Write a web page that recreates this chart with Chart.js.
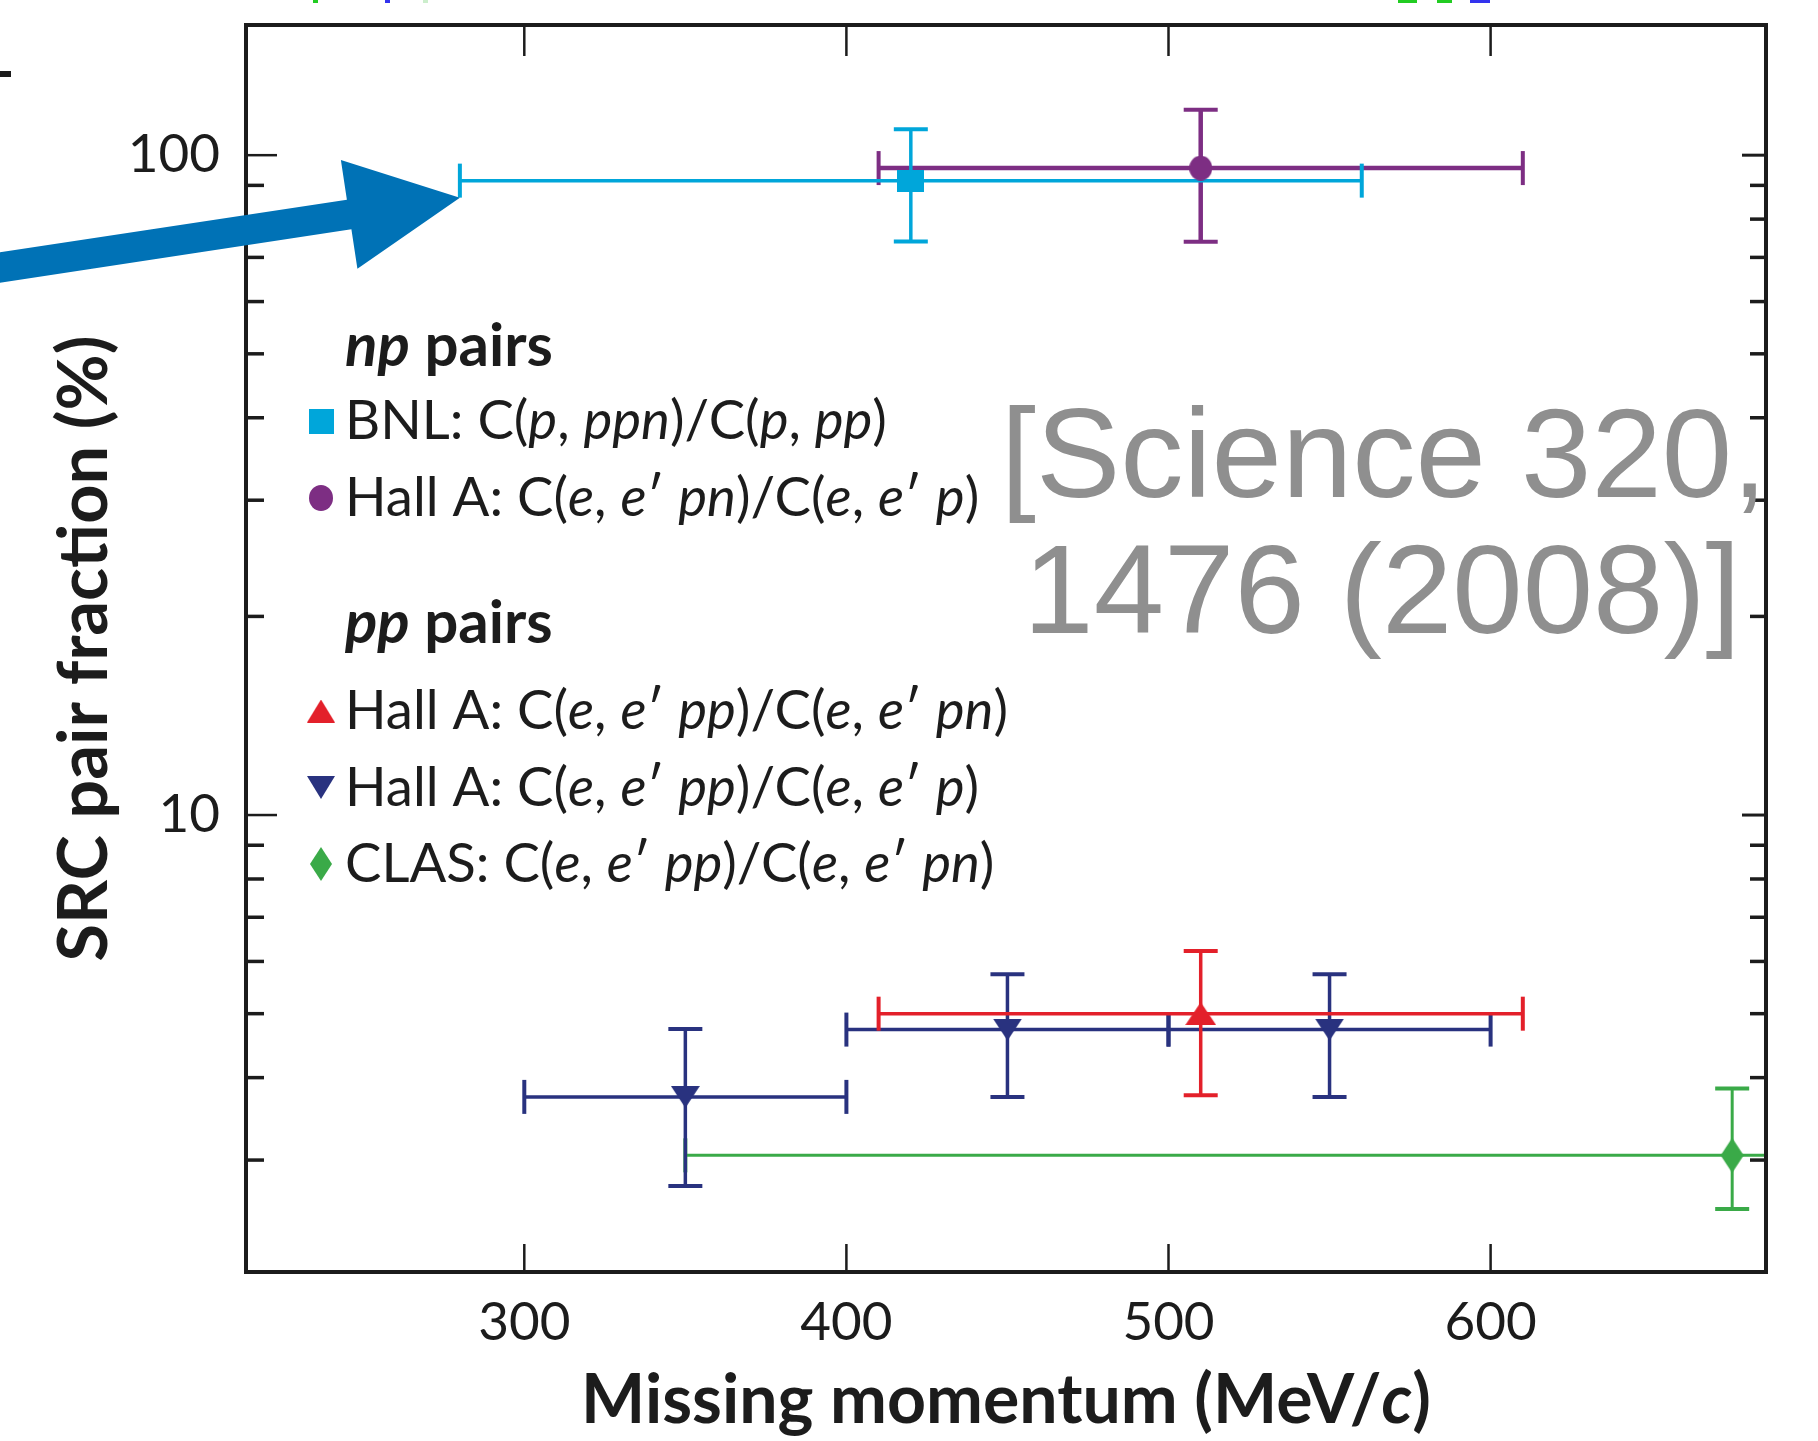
<!DOCTYPE html>
<html>
<head>
<meta charset="utf-8">
<script src="https://cdn.jsdelivr.net/npm/chart.js@4.4.1/dist/chart.umd.min.js"></script>
<style>
  html, body { margin: 0; padding: 0; background: #fff; }
  #wrap { position: relative; width: 1818px; height: 1441px; }
</style>
</head>
<body>
<div id="wrap"><canvas id="src_chart"></canvas></div>
<script>
// each point: [x, y, xLow, xHigh, yLow, yHigh]   x in MeV/c, y in %
const bnlPoints = [[420, 91.5, 280, 560, 74, 109.5]];
const hallANpPoints = [[510, 95.6, 410, 610, 73.9, 117.2]];
const hallAPpPnPoints = [[510, 5.0, 410, 610, 3.76, 6.22]];
const hallAPpPPoints = [
  [350, 3.74, 300, 400, 2.74, 4.74],
  [450, 4.73, 400, 500, 3.74, 5.74],
  [550, 4.73, 500, 600, 3.74, 5.74]
];
const clasPoints = [[675, 3.05, 350, 1000, 2.53, 3.85]];

const xTicks = [300, 400, 500, 600];
const yMajorTicks = [10, 100];
const yMinorTicks = [3, 4, 5, 6, 7, 8, 9, 20, 30, 40, 50, 60, 70, 80, 90];

// _..._ marks italic runs
const npHeader = '_np_ pairs';
const npLegend = ['BNL: C(_p_, _ppn_)/C(_p_, _pp_)', 'Hall A: C(_e_, _e_′ _pn_)/C(_e_, _e_′ _p_)'];
const ppHeader = '_pp_ pairs';
const ppLegend = [
  'Hall A: C(_e_, _e_′ _pp_)/C(_e_, _e_′ _pn_)',
  'Hall A: C(_e_, _e_′ _pp_)/C(_e_, _e_′ _p_)',
  'CLAS: C(_e_, _e_′ _pp_)/C(_e_, _e_′ _pn_)'
];
const xTitle = 'Missing momentum (MeV/_c_)';
const yTitle = 'SRC pair fraction (%)';
const citation = ['[Science 320,', '1476 (2008)]'];

const FONT = 'Lato, "Open Sans", sans-serif';
const INK = '#1c1c1c';

function makeMarker(shape, color, w, h) {
  const c = document.createElement('canvas');
  c.width = w; c.height = h;
  const g = c.getContext('2d');
  g.fillStyle = color;
  g.beginPath();
  if (shape === 'square') g.rect(0, 0, w, h);
  else if (shape === 'circle') g.ellipse(w / 2, h / 2, w / 2, h / 2, 0, 0, Math.PI * 2);
  else if (shape === 'up') { g.moveTo(w / 2, 0); g.lineTo(w, h); g.lineTo(0, h); }
  else if (shape === 'down') { g.moveTo(0, 0); g.lineTo(w, 0); g.lineTo(w / 2, h); }
  else if (shape === 'diamond') { g.moveTo(w / 2, 0); g.lineTo(w, h / 2); g.lineTo(w / 2, h); g.lineTo(0, h / 2); }
  g.closePath();
  g.fill();
  return c;
}

const series = [
  { points: bnlPoints, color: '#00a6da', lw: 3.5,
    marker: makeMarker('square', '#00a6da', 27, 22), key: makeMarker('square', '#00a6da', 25, 25) },
  { points: hallANpPoints, color: '#7d2e83', lw: 4.5,
    marker: makeMarker('circle', '#7d2e83', 23, 25), key: makeMarker('circle', '#7d2e83', 24, 26) },
  { points: hallAPpPnPoints, color: '#e3202a', lw: 3.5,
    marker: makeMarker('up', '#e3202a', 31, 23), key: makeMarker('up', '#e3202a', 28, 23) },
  { points: hallAPpPPoints, color: '#29327f', lw: 3.5,
    marker: makeMarker('down', '#29327f', 29, 22), key: makeMarker('down', '#29327f', 28, 23) },
  { points: clasPoints, color: '#3aaa48', lw: 3,
    marker: makeMarker('diamond', '#3aaa48', 23, 35), key: makeMarker('diamond', '#3aaa48', 22, 34) }
];

function errorBar(s, data, rotation) {
  return {
    data: data,
    showLine: true,
    borderColor: s.color,
    borderWidth: s.lw,
    pointStyle: 'line',
    pointRadius: 17,
    pointRotation: rotation,
    pointBorderColor: s.color,
    pointBorderWidth: 4,
    order: 1
  };
}

const datasets = [];
series.forEach(s => {
  datasets.push({
    data: s.points.map(p => ({ x: p[0], y: p[1] })),
    showLine: false,
    pointStyle: s.marker,
    pointRadius: 12,
    order: 0
  });
  s.points.forEach(p => {
    datasets.push(errorBar(s, [{ x: p[2], y: p[1] }, { x: p[3], y: p[1] }], 90));
    datasets.push(errorBar(s, [{ x: p[0], y: p[4] }, { x: p[0], y: p[5] }], 0));
  });
});

// text with italic runs, returns its width
function richText(ctx, str, x, y, weight, size, draw) {
  let cx = x;
  str.split('_').forEach((part, i) => {
    if (!part) return;
    ctx.font = (i % 2 ? 'italic ' : '') + weight + ' ' + size + 'px ' + FONT;
    if (draw !== false) ctx.fillText(part, cx, y);
    cx += ctx.measureText(part).width;
  });
  return cx - x;
}

const decorations = {
  id: 'decorations',
  afterDatasetsDraw(chart) {
    const { ctx, chartArea: a, scales: { x, y } } = chart;
    ctx.save();
    ctx.strokeStyle = INK;
    const seg = (x1, y1, x2, y2, w) => {
      ctx.lineWidth = w;
      ctx.beginPath(); ctx.moveTo(x1, y1); ctx.lineTo(x2, y2); ctx.stroke();
    };
    // ticks point inwards on all four sides
    xTicks.forEach(v => {
      const px = x.getPixelForValue(v);
      seg(px, a.bottom, px, a.bottom - 28, 2.5);
      seg(px, a.top, px, a.top + 31, 2.5);
    });
    yMajorTicks.forEach(v => {
      const py = y.getPixelForValue(v);
      seg(a.left, py, a.left + 31, py, 2.5);
      seg(a.right, py, a.right - 24, py, 3);
    });
    yMinorTicks.forEach(v => {
      const py = y.getPixelForValue(v);
      seg(a.left, py, a.left + 18, py, 3.5);
      seg(a.right, py, a.right - 16, py, 3.5);
    });
    ctx.lineWidth = 4;
    ctx.strokeRect(a.left, a.top, a.right - a.left, a.bottom - a.top);
    ctx.restore();
  },
  afterDraw(chart) {
    const { ctx, chartArea: a, scales: { x, y } } = chart;
    ctx.save();
    ctx.fillStyle = INK;
    ctx.textBaseline = 'alphabetic';
    ctx.textAlign = 'left';

    // legend block
    const lx = 345, kx = 321;
    richText(ctx, npHeader, lx, 366, 'bold', 60);
    npLegend.forEach((t, i) => {
      const by = 439 + i * 77;
      richText(ctx, t, lx, by, 'normal', 54.5);
      const k = series[i].key;
      ctx.drawImage(k, kx - k.width / 2, by - 18 - k.height / 2);
    });
    richText(ctx, ppHeader, lx, 643, 'bold', 60);
    ppLegend.forEach((t, i) => {
      const by = 729 + i * 76.5;
      richText(ctx, t, lx, by, 'normal', 54.5);
      const k = series[i + 2].key;
      ctx.drawImage(k, kx - k.width / 2, by - 18 - k.height / 2);
    });

    // axis titles
    const cx = (a.left + a.right) / 2;
    const tw = richText(ctx, xTitle, 0, 0, 'bold', 68, false);
    richText(ctx, xTitle, cx - tw / 2, 1423, 'bold', 68);

    ctx.save();
    ctx.translate(107, (a.top + a.bottom) / 2);
    ctx.rotate(-Math.PI / 2);
    ctx.textAlign = 'center';
    ctx.font = 'bold 68.5px ' + FONT;
    ctx.fillText(yTitle, 0, 0);
    ctx.restore();

    // reference note
    ctx.fillStyle = '#8f8f8f';
    ctx.textAlign = 'center';
    ctx.font = '126.5px "Liberation Sans", Arial, sans-serif';
    ctx.fillText(citation[0], 1384, 497);
    ctx.fillText(citation[1], 1382, 633);

    // arrow pointing at the low end of the BNL momentum range
    const tipX = x.getPixelForValue(bnlPoints[0][2]);
    const tipY = y.getPixelForValue(bnlPoints[0][1]) + 17;
    const tailX = -20, tailY = tipY + (tipX - tailX) * 0.152;
    const len = Math.hypot(tipX - tailX, tipY - tailY);
    const dx = (tipX - tailX) / len, dy = (tipY - tailY) / len;
    const nx = -dy, ny = dx;
    const bx = tipX - dx * 112, by = tipY - dy * 112;
    ctx.fillStyle = '#0072b6';
    ctx.beginPath();
    ctx.moveTo(tailX + nx * 15, tailY + ny * 15);
    ctx.lineTo(bx + nx * 15, by + ny * 15);
    ctx.lineTo(bx + nx * 55, by + ny * 55);
    ctx.lineTo(tipX, tipY);
    ctx.lineTo(bx - nx * 55, by - ny * 55);
    ctx.lineTo(bx - nx * 15, by - ny * 15);
    ctx.lineTo(tailX - nx * 15, tailY - ny * 15);
    ctx.closePath();
    ctx.fill();

    // edge of the neighbouring panels
    ctx.fillStyle = '#1c1c1c'; ctx.fillRect(0, 71, 11, 6);
    ctx.fillStyle = '#22cc22'; ctx.fillRect(313, 0, 5, 3); ctx.fillRect(1398, 0, 19, 3); ctx.fillRect(1437, 0, 15, 3);
    ctx.fillStyle = '#3333ee'; ctx.fillRect(385, 0, 5, 3); ctx.fillRect(1470, 0, 20, 3);
    ctx.fillStyle = '#cceecc'; ctx.fillRect(423, 0, 5, 3);
    ctx.restore();
  }
};

const ctx = document.getElementById('src_chart').getContext('2d');

const cfg = {
  type: 'scatter',
  data: { datasets: datasets },
  options: {
    responsive: true,
    maintainAspectRatio: false,
    animation: false,
    events: [],
    layout: { padding: { top: 25, right: 52, bottom: 0, left: 0 } },
    plugins: {
      legend: { display: false },
      tooltip: { enabled: false }
    },
    scales: {
      x: {
        type: 'linear',
        min: 213.6,
        max: 685.5,
        afterBuildTicks: axis => { axis.ticks = xTicks.map(v => ({ value: v })); },
        afterFit: axis => { axis.height = 169; axis.paddingLeft = 0; axis.paddingRight = 0; },
        grid: { display: false, drawTicks: false },
        border: { display: false },
        ticks: {
          color: INK,
          padding: 19,
          maxRotation: 0,
          font: { family: FONT, size: 53 },
          callback: v => String(v)
        }
      },
      y: {
        type: 'logarithmic',
        min: 2.03,
        max: 157.5,
        afterBuildTicks: axis => { axis.ticks = yMajorTicks.map(v => ({ value: v })); },
        afterFit: axis => { axis.width = 246; axis.paddingTop = 0; axis.paddingBottom = 0; },
        grid: { display: false, drawTicks: false },
        border: { display: false },
        ticks: {
          color: INK,
          padding: 26,
          font: { family: FONT, size: 53 },
          callback: v => String(v)
        }
      }
    }
  },
  plugins: [decorations]
};

// draw the chart
const srcChart = new Chart(ctx, cfg);
</script>
</body>
</html>
